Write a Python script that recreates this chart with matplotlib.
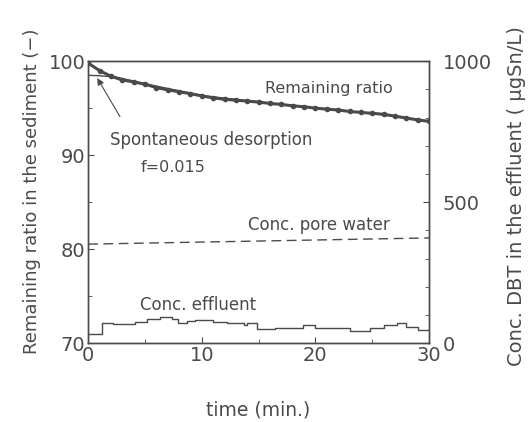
import matplotlib
matplotlib.use("Agg")
import matplotlib.pyplot as plt
from matplotlib.ticker import MultipleLocator

# remaining ratio in the sediment (%), one point per minute
ratio_t = list(range(31))
ratio = [99.8, 99.0, 98.4, 98.0, 97.8, 97.55, 97.2, 96.95, 96.75, 96.55,
         96.3, 96.1, 95.95, 95.85, 95.75, 95.65, 95.5, 95.4, 95.25, 95.15,
         95.0, 94.9, 94.8, 94.65, 94.55, 94.45, 94.35, 94.15, 93.95, 93.75,
         93.6]

# spontaneous desorption model (f=0.015)
model_t = [0, 1, 2.5, 5, 10, 15, 20, 25, 30]
model_r = [98.5, 98.45, 98.3, 97.6, 96.35, 95.65, 95.0, 94.45, 93.6]

# pore water concentration (ugSn/L)
pore_t = [0, 30]
pore_c = [351, 373]

# effluent concentration (ugSn/L), stepwise
eff_t = [0, 1.2, 2.2, 4.1, 5.2, 6.3, 7.4, 7.9, 8.7, 9.4, 11.0, 12.2, 13.7,
         14.0, 14.9, 16.4, 18.9, 20.0, 23.0, 24.8, 26.0, 27.2, 28.0, 29.0, 30]
eff_c = [32, 70, 66, 74, 84, 93, 84, 70, 79, 82, 76, 70, 64,
         70, 49, 52, 65, 52, 44, 52, 64, 70, 56, 46, 46]

INK = "#4a4a4a"
plt.rcParams["font.family"] = ["DejaVu Sans"]

fig = plt.figure(figsize=(5.31, 4.22), dpi=100)
ax = fig.add_axes([0.166, 0.187, 0.642, 0.668])
ax2 = ax.twinx()

ax.plot(model_t, model_r, color=INK, lw=1.0)
ax.plot(ratio_t, ratio, color=INK, lw=2.2, marker="o", ms=3)
ax2.plot(pore_t, pore_c, color=INK, lw=1.0, ls=(0, (7, 4)))
ax2.step(eff_t, eff_c, where="post", color=INK, lw=1.0)

ax.annotate("", xy=(0.8, 98.2), xytext=(2.8, 94.1),
            arrowprops=dict(arrowstyle="-|>", color=INK, lw=0.8,
                            mutation_scale=10, shrinkA=0, shrinkB=0))

ax.text(15.6, 97.1, "Remaining ratio", color=INK, fontsize=11.5, va="center")
ax.text(1.9, 91.6, "Spontaneous desorption", color=INK, fontsize=12,
        va="center")
ax.text(4.6, 88.7, "f=0.015", color=INK, fontsize=11.5, va="center")
ax2.text(14.1, 418, "Conc. pore water", color=INK, fontsize=12, va="center")
ax2.text(4.6, 135, "Conc. effluent", color=INK, fontsize=12, va="center")

ax.set_xlim(0, 30)
ax.set_ylim(70, 100)
ax2.set_ylim(0, 1000)
ax.set_xticks([0, 10, 20, 30])
ax.xaxis.set_minor_locator(MultipleLocator(5))
ax.set_yticks([70, 80, 90, 100])
ax.yaxis.set_minor_locator(MultipleLocator(5))
ax2.set_yticks([0, 500, 1000])
ax2.yaxis.set_minor_locator(MultipleLocator(100))

for a in (ax, ax2):
    for s in a.spines.values():
        s.set_color(INK)
        s.set_linewidth(1.0)
    a.tick_params(which="both", direction="in", colors=INK, labelsize=14)
    a.tick_params(which="major", length=4)
    a.tick_params(which="minor", length=3)
ax.tick_params(axis="x", pad=2)
ax.tick_params(axis="y", pad=2)
ax2.tick_params(axis="y", pad=10)

ax.set_xlabel("time (min.)", color=INK, fontsize=13.5, labelpad=26)
ax.set_ylabel("Remaining ratio in the sediment (\u2212)", color=INK,
              fontsize=13)
ax2.set_ylabel("Conc. DBT in the effluent ( \u03bcgSn/L)", color=INK,
               fontsize=14)
ax.yaxis.set_label_coords(-0.138, 0.54)
ax2.yaxis.set_label_coords(1.23, 0.52)

fig.savefig("out.png", dpi=100)
